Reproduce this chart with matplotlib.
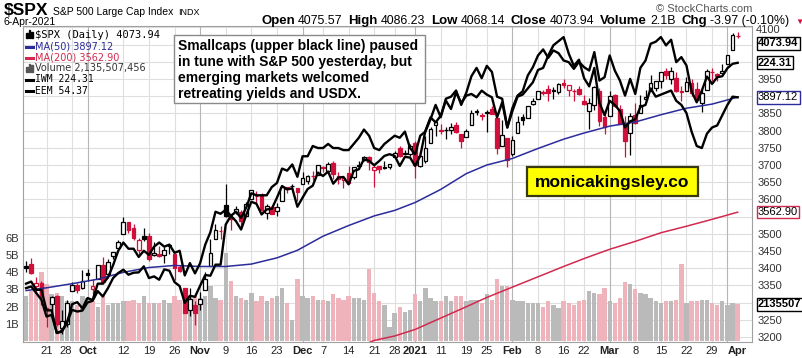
# S&P 500 daily candles with MA(50), MA(200), volume, IWM and EEM overlays
import numpy as np
import pandas as pd
import matplotlib
matplotlib.use('Agg')
import matplotlib.pyplot as plt
from matplotlib.lines import Line2D
from matplotlib.patches import Rectangle
from matplotlib.transforms import blended_transform_factory

W, H = 803, 358

## Data

holidays = ['2020-11-26', '2020-12-25', '2021-01-01', '2021-01-18', '2021-02-15', '2021-04-02']
dates = pd.bdate_range('2020-09-15', '2021-04-06', freq='C', holidays=holidays)

opens = [3407.7, 3411.2, 3346.9, 3357.4, 3285.6, 3295.8, 3320.1, 3226.1, 3236.7, 3333.9, 3350.9, 3341.2,
         3385.9, 3338.9, 3367.3, 3408.7, 3384.6, 3434.3, 3459.7, 3500.0, 3534.0, 3515.5, 3453.7, 3493.5,
         3493.7, 3439.4, 3439.9, 3438.5, 3464.9, 3441.4, 3403.2, 3342.5, 3277.2, 3293.6,
         3296.2, 3336.3, 3406.5, 3485.7, 3508.3, 3583.0, 3543.3, 3563.2, 3562.7, 3552.6, 3600.2, 3610.3,
         3612.1, 3559.4, 3579.3, 3566.8, 3594.5, 3635.5, 3638.6, 3634.2,
         3645.9, 3653.8, 3668.3, 3670.9, 3694.7, 3683.1, 3705.9, 3659.1, 3656.1, 3675.3, 3666.4, 3696.3,
         3713.7, 3722.4, 3684.3, 3698.1, 3693.4, 3694.0, 3723.0, 3750.0, 3736.2, 3733.3,
         3764.6, 3698.0, 3712.2, 3764.7, 3815.1, 3803.1, 3801.6, 3802.2, 3815.0, 3788.7, 3781.9, 3816.2,
         3857.5, 3844.2, 3851.7, 3863.0, 3836.8, 3755.8, 3778.1,
         3731.2, 3791.8, 3840.3, 3836.7, 3878.3, 3892.6, 3910.5, 3920.8, 3916.4, 3911.7, 3939.6, 3918.5,
         3915.9, 3921.2, 3885.6, 3857.1, 3873.7, 3915.8, 3839.7,
         3842.5, 3903.6, 3864.0, 3818.5, 3793.6, 3844.4, 3851.9, 3892.0, 3915.5, 3924.5, 3943.0, 3973.6,
         3949.6, 3953.5, 3913.1, 3916.5, 3937.6, 3919.9, 3879.3, 3917.1, 3969.3, 3963.3, 3967.3,
         3992.8, 4034.4, 4075.57]
highs = [3419.5, 3428.9, 3375.2, 3362.3, 3285.6, 3320.3, 3323.4, 3278.7, 3306.9, 3360.7, 3357.9, 3393.6,
         3397.2, 3369.1, 3409.6, 3431.6, 3426.3, 3447.3, 3482.3, 3549.9, 3534.0, 3527.9, 3489.1, 3515.8,
         3502.4, 3476.9, 3464.9, 3460.5, 3466.5, 3441.4, 3409.5, 3342.5, 3341.1, 3304.9,
         3330.1, 3389.5, 3486.3, 3529.1, 3521.6, 3646.0, 3557.2, 3581.2, 3569.0, 3593.7, 3628.5, 3623.1,
         3619.1, 3585.2, 3581.2, 3589.8, 3642.3, 3635.5, 3644.3, 3634.2,
         3678.5, 3671.0, 3682.7, 3699.2, 3697.4, 3708.5, 3712.4, 3678.5, 3665.9, 3697.6, 3695.3, 3711.3,
         3725.1, 3726.7, 3702.9, 3698.3, 3711.2, 3703.8, 3740.5, 3756.1, 3744.6, 3760.2,
         3770.0, 3737.8, 3783.0, 3811.6, 3826.7, 3817.9, 3810.8, 3821.0, 3823.6, 3788.7, 3804.5, 3859.8,
         3861.5, 3852.3, 3859.2, 3870.9, 3836.8, 3830.5, 3778.1,
         3784.3, 3843.1, 3847.5, 3872.4, 3894.6, 3915.8, 3918.4, 3931.5, 3926.0, 3937.2, 3950.4, 3933.6,
         3922.0, 3930.4, 3902.9, 3896.0, 3928.7, 3925.0, 3861.1,
         3914.5, 3906.4, 3874.5, 3843.7, 3851.7, 3881.1, 3903.8, 3917.4, 3960.3, 3945.0, 3970.1, 3981.0,
         3983.9, 3969.6, 3930.1, 3955.3, 3949.1, 3942.1, 3919.5, 3978.2, 3981.8, 3968.0, 3994.4,
         4020.6, 4083.4, 4086.23]
lows = [3389.2, 3384.5, 3328.8, 3292.4, 3229.1, 3270.9, 3232.6, 3209.5, 3228.4, 3332.9, 3327.5, 3340.0,
        3361.4, 3323.7, 3367.3, 3354.5, 3384.6, 3428.2, 3458.1, 3499.6, 3500.9, 3480.6, 3440.9, 3480.5,
        3419.9, 3435.7, 3433.1, 3415.3, 3440.5, 3364.9, 3388.7, 3268.9, 3259.8, 3233.9,
        3279.7, 3336.3, 3405.2, 3485.7, 3484.3, 3547.5, 3511.9, 3557.0, 3518.6, 3552.6, 3600.2, 3588.7,
        3567.3, 3543.8, 3556.9, 3552.8, 3594.5, 3617.8, 3629.3, 3594.4,
        3645.9, 3644.8, 3657.2, 3670.9, 3678.9, 3678.8, 3660.5, 3645.2, 3633.4, 3645.8, 3659.6, 3688.6,
        3710.9, 3685.8, 3636.5, 3676.2, 3689.3, 3689.3, 3723.0, 3723.3, 3730.2, 3726.9,
        3662.7, 3695.1, 3705.3, 3764.7, 3783.6, 3789.0, 3776.5, 3791.5, 3792.9, 3749.6, 3780.4, 3816.2,
        3845.1, 3830.4, 3797.2, 3847.8, 3732.5, 3755.8, 3694.1,
        3725.6, 3791.8, 3816.7, 3836.7, 3874.9, 3892.6, 3902.6, 3884.9, 3890.4, 3905.8, 3923.9, 3900.4,
        3885.0, 3903.1, 3874.7, 3805.6, 3859.6, 3814.0, 3789.5,
        3842.5, 3868.6, 3818.9, 3723.3, 3730.2, 3819.3, 3851.9, 3885.7, 3915.5, 3915.2, 3923.5, 3949.1,
        3935.7, 3910.9, 3886.8, 3914.2, 3901.6, 3888.9, 3853.5, 3917.1, 3943.3, 3944.4, 3967.0,
        3992.8, 4034.4, 4068.14]
closes = [3401.2, 3385.5, 3357.0, 3319.5, 3281.1, 3315.6, 3236.9, 3246.6, 3298.5, 3351.6, 3335.5, 3363.0,
          3380.8, 3348.4, 3408.6, 3360.9, 3419.4, 3446.8, 3477.1, 3534.2, 3511.9, 3488.7, 3483.3, 3483.8,
          3426.9, 3443.1, 3435.6, 3453.5, 3465.4, 3400.9, 3390.7, 3271.0, 3310.1, 3270.0,
          3310.2, 3369.2, 3443.4, 3510.5, 3509.4, 3550.5, 3545.5, 3572.7, 3537.0, 3585.2, 3626.9, 3609.5,
          3567.8, 3581.9, 3557.5, 3577.6, 3635.4, 3629.6, 3638.4, 3621.6,
          3662.5, 3669.0, 3666.7, 3699.1, 3692.0, 3702.3, 3672.8, 3668.1, 3663.5, 3647.5, 3694.6, 3701.2,
          3722.5, 3709.4, 3694.9, 3687.3, 3690.0, 3703.1, 3735.4, 3727.0, 3732.0, 3756.1,
          3700.7, 3726.9, 3748.1, 3803.8, 3824.7, 3799.6, 3801.2, 3809.8, 3795.5, 3768.3, 3798.9, 3851.9,
          3853.1, 3841.5, 3855.4, 3849.6, 3750.8, 3787.4, 3714.2,
          3773.9, 3826.3, 3830.2, 3871.7, 3886.8, 3915.6, 3911.2, 3909.9, 3916.4, 3934.8, 3932.6, 3931.3,
          3914.0, 3906.7, 3876.5, 3881.4, 3925.4, 3829.3, 3811.2,
          3901.8, 3870.3, 3819.7, 3768.5, 3841.9, 3821.4, 3875.4, 3898.8, 3939.3, 3943.3, 3968.9, 3962.7,
          3974.1, 3915.5, 3913.1, 3940.6, 3910.5, 3889.1, 3909.5, 3974.5, 3971.1, 3958.6, 3972.9,
          4019.9, 4077.9, 4073.94]
prev_close = 3383.5  # close of 14-Sep-2020

# volume in billions of shares
volumes = [2.6, 2.9, 2.8, 4.0, 3.3, 2.7, 2.8, 2.6, 2.3, 2.3, 2.1, 2.6,
           2.5, 2.3, 2.0, 2.6, 2.1, 2.2, 2.2, 2.3, 2.3, 2.4, 2.2, 2.6,
           2.2, 2.2, 2.2, 2.4, 2.2, 2.6, 2.4, 2.6, 2.5, 2.6,
           2.5, 2.6, 3.2, 2.5, 2.4, 5.1, 3.5, 2.6, 2.5, 2.4, 2.8, 2.3,
           2.6, 2.3, 2.5, 2.6, 3.1, 2.2, 1.2, 3.6,
           2.6, 2.5, 2.6, 2.4, 2.4, 2.3, 2.7, 2.5, 2.4, 2.6, 2.5, 2.5,
           2.4, 4.2, 2.8, 2.3, 2.1, 0.8, 1.6, 2.0, 1.7, 1.8,
           2.7, 2.3, 3.1, 2.5, 2.3, 2.3, 2.6, 2.3, 2.6, 2.6, 2.3, 2.4,
           2.4, 2.2, 2.7, 2.4, 3.6, 3.2, 3.2,
           2.4, 2.3, 2.3, 2.2, 2.2, 2.2, 2.0, 2.3, 2.1, 1.9, 2.3, 2.2,
           2.1, 2.3, 2.4, 2.9, 2.8, 2.7, 3.1,
           2.3, 2.2, 2.5, 3.4, 3.3, 3.0, 2.8, 2.7, 2.5, 2.3, 2.2, 2.3,
           2.3, 2.4, 4.5, 2.2, 2.3, 2.3, 2.4, 2.4, 2.2, 2.1, 2.3,
           2.1, 2.2, 2.135507456]

iwm = [157.0, 157.5, 155.5, 153.5, 148.5, 149.0, 143.6, 144.0, 146.8, 150.5, 150.0, 150.3,
       152.7, 153.2, 156.1, 154.5, 157.0, 160.0, 161.5, 162.5, 161.0, 161.6, 161.7, 163.5,
       160.0, 160.5, 159.5, 162.6, 162.2, 158.8, 157.6, 152.6, 154.7, 154.4,
       157.7, 160.9, 160.7, 164.0, 164.0, 176.0, 178.6, 177.0, 174.5, 178.8, 182.8, 182.2,
       179.0, 180.5, 180.7, 184.0, 187.5, 186.5, 186.8, 181.3,
       184.0, 186.6, 187.6, 191.5, 190.5, 191.8, 188.2, 190.0, 190.2, 188.0, 192.0, 192.5,
       195.5, 195.0, 193.7, 195.0, 196.5, 197.0, 196.5, 193.5, 196.2, 196.0,
       193.5, 196.5, 204.0, 208.0, 206.5, 208.5, 213.0, 210.5, 215.5, 212.3, 214.5, 215.0,
       214.0, 216.0, 214.8, 214.0, 208.0, 212.5, 205.0,
       210.8, 214.5, 215.8, 220.5, 223.0, 226.5, 228.3, 225.8, 228.0, 227.2, 225.0, 224.5,
       222.5, 224.6, 223.0, 222.0, 227.5, 219.0, 220.0,
       226.5, 222.0, 219.0, 214.5, 219.5, 215.0, 222.8, 225.0, 230.0, 230.6, 232.0, 229.5,
       231.2, 224.5, 226.0, 223.5, 215.8, 212.5, 216.0, 220.2, 218.0, 220.0, 220.3,
       222.7, 224.0, 224.31]
eem = [45.3, 45.4, 45.0, 45.0, 44.0, 44.0, 42.9, 43.0, 43.4, 44.3, 44.4, 44.1,
       44.6, 44.5, 45.3, 45.3, 45.6, 46.2, 46.9, 47.3, 47.0, 47.0, 46.6, 46.9,
       46.7, 47.1, 47.3, 47.1, 47.2, 46.8, 46.9, 45.7, 46.3, 45.8,
       46.3, 47.2, 47.8, 48.8, 48.7, 48.9, 48.6, 48.8, 48.5, 49.0, 49.7, 49.6,
       49.6, 49.6, 50.0, 50.2, 50.9, 50.8, 51.1, 50.5,
       51.5, 51.5, 52.0, 51.9, 51.9, 52.1, 51.9, 51.9, 51.8, 51.8, 52.1, 52.4,
       52.8, 52.5, 51.9, 51.8, 52.1, 52.3, 52.5, 52.4, 52.7, 51.9,
       51.6, 52.5, 52.7, 53.3, 54.0, 53.4, 54.3, 54.4, 54.7, 54.0, 54.6, 55.4,
       55.8, 55.3, 55.9, 55.6, 54.4, 54.3, 52.9,
       53.7, 54.4, 54.5, 54.8, 55.1, 55.7, 55.8, 56.4, 56.9, 57.1, 57.3, 56.5,
       55.9, 56.2, 55.3, 54.9, 55.8, 54.1, 53.5,
       54.2, 54.0, 53.7, 52.9, 53.2, 53.3, 53.9, 54.0, 54.8, 54.4, 54.5, 54.6,
       54.7, 54.2, 54.0, 53.6, 52.7, 52.0, 51.9, 52.6, 52.9, 53.0, 53.5,
       54.0, 54.4, 54.37]

ma50_dates = ['2020-09-15', '2020-09-21', '2020-09-28', '2020-10-05', '2020-10-12', '2020-10-19',
              '2020-10-26', '2020-11-02', '2020-11-09', '2020-11-16', '2020-11-23', '2020-11-30',
              '2020-12-07', '2020-12-14', '2020-12-21', '2020-12-28', '2021-01-04', '2021-01-11',
              '2021-01-19', '2021-01-25', '2021-02-01', '2021-02-08', '2021-02-16', '2021-02-22',
              '2021-03-01', '2021-03-08', '2021-03-15', '2021-03-22', '2021-03-29', '2021-04-06']
ma50_vals = [3335, 3343, 3355, 3368, 3388, 3402, 3408, 3405, 3405, 3412, 3430, 3452,
             3493, 3524, 3552, 3568, 3591, 3629, 3675, 3700, 3719, 3748, 3775, 3793,
             3813, 3825, 3846, 3865, 3877, 3897.12]
ma200_dates = ['2020-12-14', '2020-12-21', '2020-12-28', '2021-01-04', '2021-01-11', '2021-01-19',
               '2021-01-25', '2021-02-01', '2021-02-08', '2021-02-16', '2021-02-22', '2021-03-01',
               '2021-03-08', '2021-03-15', '2021-03-22', '2021-03-29', '2021-04-06']
ma200_vals = [3160, 3190, 3203, 3222, 3255, 3288, 3315, 3345, 3375, 3405, 3428, 3455,
              3478, 3503, 3522, 3542, 3562.90]

tick_dates = ['2020-09-21', '2020-09-28', '2020-10-01', '2020-10-12', '2020-10-19', '2020-10-26',
              '2020-11-02', '2020-11-09', '2020-11-16', '2020-11-23', '2020-12-01', '2020-12-07',
              '2020-12-14', '2020-12-21', '2020-12-28', '2021-01-04', '2021-01-11', '2021-01-19',
              '2021-01-25', '2021-02-01', '2021-02-08', '2021-02-16', '2021-02-22', '2021-03-01',
              '2021-03-08', '2021-03-15', '2021-03-22', '2021-03-29', '2021-04-01']
tick_labels = ['21', '28', 'Oct', '12', '19', '26', 'Nov', '9', '16', '23', 'Dec', '7', '14', '21',
               '28', '2021', '11', '19', '25', 'Feb', '8', '16', '22', 'Mar', '8', '15', '22', '29', 'Apr']

# price levels whose axis label sits under a value tag (4100 is drawn separately)
hidden_levels = [4100, 4050, 4000, 3900, 3550, 3300]

note = ['Smallcaps (upper black line) paused', 'in tune with S&P 500 yesterday, but',
        'emerging markets welcomed', 'retreating yields and USDX.']

## Derived arrays

x = np.arange(len(dates))
o = np.array(opens); hi = np.array(highs); lo = np.array(lows); c = np.array(closes)
pc = np.concatenate([[prev_close], c[:-1]])
down = c < pc
RED = '#d0103a'
BLUE = '#2b2b9b'
MARED = '#d12a4e'
col = np.where(down, RED, 'black')
fill = np.where(c < o, col, 'white')
vol_col = np.where(down, '#efb4bb', '#bababa')

ma50_x = dates.get_indexer(pd.to_datetime(ma50_dates))
ma200_x = dates.get_indexer(pd.to_datetime(ma200_dates))
tick_x = dates.get_indexer(pd.to_datetime(tick_dates))

## Figure

plt.rcParams['font.family'] = ['Liberation Sans', 'DejaVu Sans']
fig = plt.figure(figsize=(W / 100, H / 100), dpi=100)
L, R, T, B = 23, 752, 26, 342
ax = fig.add_axes([L / W, 1 - B / H, (R - L) / W, (B - T) / H])
axp = ax.twinx()
axi = ax.twinx()
axe = ax.twinx()

ax.set_xlim(-0.6, 141.8)
ax.set_ylim(-0.06, 18.3)
axp.set_ylim(3185.5, 4104)
axi.set_ylim(140.9, 235.3)
axe.set_ylim(42.46, 57.84)

# grid
price_ticks = np.arange(3200, 4101, 50)
trans = blended_transform_factory(ax.transAxes, axp.transData)
for p in price_ticks:
    ax.plot([0, 1], [p, p], transform=trans, color='#dedede', lw=0.8, zorder=0)
for tx, tl in zip(tick_x, tick_labels):
    month = not tl.isdigit() or tl == '2021'
    ax.axvline(tx, color='#b5b5b5' if month else '#dedede', lw=0.8, zorder=0)

# volume
ax.bar(x, volumes, width=0.85, color=vol_col, zorder=1)

# candles
axp.vlines(x, lo, hi, colors=col, lw=0.9, zorder=2)
axp.bar(x, np.maximum(np.abs(c - o), 1.2), bottom=np.minimum(o, c), width=0.72,
        facecolor=fill, edgecolor=col, linewidth=0.9, zorder=3)

# moving averages
axp.plot(ma50_x, ma50_vals, color=BLUE, lw=1.1, zorder=4)
axp.plot(ma200_x, ma200_vals, color=MARED, lw=1.1, zorder=4)

# overlays
axi.plot(x, iwm, color='black', lw=1.7, zorder=5)
axe.plot(x, eem, color='black', lw=1.7, zorder=5)

# axes cosmetics
for a in (axp, axi, axe):
    for s in a.spines.values():
        s.set_visible(False)
for s in ax.spines.values():
    s.set_color('#a0a0a0')
    s.set_linewidth(0.8)
axi.set_yticks([]); axe.set_yticks([])

axp.set_yticks(price_ticks)
axp.set_yticklabels(['' if p in hidden_levels else str(p) for p in price_ticks])
axp.tick_params(axis='y', length=0, pad=4, labelsize=8, labelcolor='#333333')
# top label sits a little below its gridline, as on the original
axp.annotate('4100', xy=(1, 4100), xycoords=('axes fraction', 'data'), xytext=(4, -3),
             textcoords='offset pixels', ha='left', va='center', fontsize=8, color='#333333',
             annotation_clip=False)

ax.set_yticks([1, 2, 3, 4, 5, 6])
ax.set_yticklabels(['1B', '2B', '3B', '4B', '5B', '6B'])
ax.tick_params(axis='y', length=0, pad=3, labelsize=8, labelcolor='#333333')

ax.set_xticks(tick_x)
ax.set_xticklabels(tick_labels)
ax.tick_params(axis='x', length=0, pad=3, labelsize=8, labelcolor='#222222')
for lbl in ax.get_xticklabels():
    t = lbl.get_text()
    if not t.isdigit() or t == '2021':
        lbl.set_fontweight('bold')
    if t == 'Apr':
        lbl.set_horizontalalignment('left')
ax.get_xticklabels()[1].set_horizontalalignment('right')

# value tags on the right
def tag(a, yval, text, ec, dy=0):
    a.annotate(text, xy=(1, yval), xycoords=('axes fraction', 'data'),
               xytext=(6, dy), textcoords='offset pixels', ha='left', va='center',
               fontsize=8, fontweight='bold' if ec == 'black' else 'normal', color='black',
               bbox=dict(boxstyle='square,pad=0.12', fc='white', ec=ec, lw=1.0),
               annotation_clip=False, zorder=10)

tag(axp, closes[-1], '%.2f' % closes[-1], 'black', dy=-7)
tag(axi, iwm[-1], '%.2f' % iwm[-1], 'black')
tag(axp, ma50_vals[-1], '%.2f' % ma50_vals[-1], BLUE)
tag(axp, ma200_vals[-1], '%.2f' % ma200_vals[-1], MARED)
tag(ax, volumes[-1], '%d' % round(volumes[-1] * 1e6), 'black')

# header
def fx(px):
    return px / W

def fy(py):
    return 1 - py / H

fig.canvas.draw()
rend = fig.canvas.get_renderer()

def run(x0, y0, pieces):
    xp = x0
    for s, kw, gap in pieces:
        t = fig.text(fx(xp), fy(y0), s, va='baseline', **kw)
        xp += t.get_window_extent(rend).width + gap
    return xp

run(4, 15, [('$SPX', dict(fontsize=12.5, fontweight='bold'), 5),
            ('S&P 500 Large Cap Index', dict(fontsize=7.5), 4),
            ('INDX', dict(fontsize=6.5), 0)])
fig.text(fx(4), fy(25), '6-Apr-2021', fontsize=7.5, va='baseline')
fig.text(fx(752), fy(12), '\u00a9 StockCharts.com', fontsize=8, color='#555555', ha='right', va='baseline')

parts = [('Open', True), ('4075.57', False), ('High', True), ('4086.23', False),
         ('Low', True), ('4068.14', False), ('Close', True), ('4073.94', False),
         ('Volume', True), ('2.1B', False), ('Chg', True), ('-3.97 (-0.10%)', False)]
pieces = [(s, dict(fontsize=9.5 if b else 8.9, fontweight='bold' if b else 'normal'), 3 if b else 6)
          for s, b in parts]
xe = run(261, 24, pieces)
fig.text(fx(xe), fy(24), '\u25bc', fontsize=6, color=RED, va='baseline')

# legend block: small drawn keys, then text
def key_line(y, color):
    fig.add_artist(Line2D([fx(26), fx(33)], [fy(y - 3), fy(y - 3)], color=color, lw=2.2,
                          transform=fig.transFigure))

def key_bars(y, color):
    for dx, hgt in ((26, 5), (28.5, 8), (31, 6)):
        fig.add_artist(Rectangle((fx(dx), fy(y)), 1.6 / W, hgt / H, color=color,
                                 transform=fig.transFigure))

key_bars(38, 'black')
fig.text(fx(35), fy(38), '$SPX (Daily) 4073.94', fontsize=7.5, family='DejaVu Sans Mono', va='baseline')
leg = [(BLUE, 'MA(50) 3897.12', 'DejaVu Sans'),
       (MARED, 'MA(200) 3562.90', 'DejaVu Sans'),
       ('#555555', 'Volume 2,135,507,456', 'DejaVu Sans'),
       ('black', 'IWM 224.31', 'DejaVu Sans Mono'),
       ('black', 'EEM 54.37', 'DejaVu Sans Mono')]
for i, (mc, txt, fam) in enumerate(leg):
    y = 49.5 + i * 11
    if txt.startswith('Volume'):
        key_bars(y, mc)
    else:
        key_line(y, mc)
    fig.text(fx(35), fy(y), txt, fontsize=7, color=mc if mc != '#555555' else '#333333',
             va='baseline', family=fam)

# comment box
fig.patches.append(Rectangle((fx(174), fy(103)), fx(425) - fx(174), fy(35) - fy(103),
                             transform=fig.transFigure, fc='white', ec='#8a8a8a', lw=1.0, zorder=20))
for i, line in enumerate(note):
    fig.text(fx(178), fy(46 + i * 16), line, fontsize=10, fontweight='bold',
             va='center', zorder=21)

# site box
fig.patches.append(Rectangle((fx(527), fy(196)), fx(698) - fx(527), fy(167) - fy(196),
                             transform=fig.transFigure, fc='#ffff00', ec='#3a3a10', lw=1.6, zorder=20))
fig.text(fx(612.5), fy(182), 'monicakingsley.co', fontsize=12.5, fontweight='bold',
         ha='center', va='center', zorder=21)

fig.savefig('out.png', dpi=100)
